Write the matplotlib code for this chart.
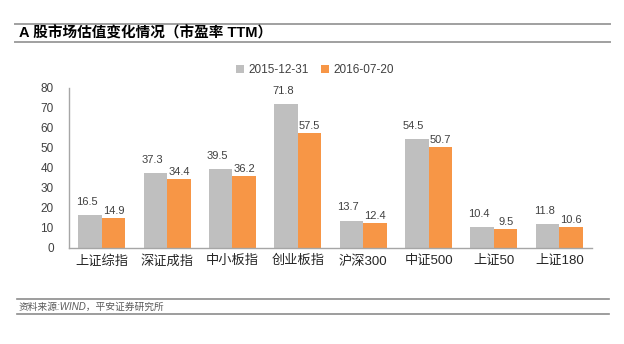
import numpy as np
import matplotlib
matplotlib.use("Agg")
import matplotlib.pyplot as plt
from matplotlib.lines import Line2D

plt.rcParams["font.family"] = ["Liberation Sans", "Noto Sans CJK SC", "DejaVu Sans"]
plt.rcParams["axes.unicode_minus"] = False

categories = ["上证综指", "深证成指", "中小板指", "创业板指", "沪深300", "中证500", "上证50", "上证180"]
pe_2015 = [16.5, 37.3, 39.5, 71.8, 13.7, 54.5, 10.4, 11.8]
pe_2016 = [14.9, 34.4, 36.2, 57.5, 12.4, 50.7, 9.5, 10.6]
series_names = ["2015-12-31", "2016-07-20"]
yticks = [0, 10, 20, 30, 40, 50, 60, 70, 80]

gray = "#BFBFBF"
orange = "#F79646"
text_col = "#404040"

W, H = 624, 344
fig = plt.figure(figsize=(W / 100, H / 100), dpi=100)

ax = fig.add_axes([69 / W, 1 - 248 / H, (592 - 69) / W, (248 - 88) / H])
x = np.arange(len(categories))
bw = 0.36
b1 = ax.bar(x - bw / 2, pe_2015, bw, color=gray, label=series_names[0])
b2 = ax.bar(x + bw / 2, pe_2016, bw, color=orange, label=series_names[1])

for rect, v in zip(b1, pe_2015):
    ax.annotate(f"{v:.1f}", (rect.get_x() + rect.get_width() / 2 - 0.05, v),
                xytext=(0, 6), textcoords="offset points", ha="center", va="bottom",
                fontsize=8, color=text_col)
for rect, v in zip(b2, pe_2016):
    ax.annotate(f"{v:.1f}", (rect.get_x() + rect.get_width() / 2, v),
                xytext=(0, 1.5), textcoords="offset points", ha="center", va="bottom",
                fontsize=8, color=text_col)

ax.set_xlim(-0.5, len(categories) - 0.5)
ax.set_ylim(0, 80)
ax.set_yticks(yticks)
ax.set_xticks(x)
ax.set_xticklabels(categories, fontsize=9.5, color="#262626")
ax.tick_params(axis="y", length=0, labelsize=8.5, labelcolor=text_col, pad=11)
ax.tick_params(axis="x", length=0, pad=5)
for s in ["top", "right"]:
    ax.spines[s].set_visible(False)
for s in ["left", "bottom"]:
    ax.spines[s].set_color("#A6A6A6")
    ax.spines[s].set_linewidth(1.0)

ax.legend(loc="center", bbox_to_anchor=(315 / W, 1 - 70 / H), bbox_transform=fig.transFigure,
          ncol=2, frameon=False, fontsize=8.5, handlelength=0.7, handleheight=0.7,
          handletextpad=0.4, columnspacing=1.0, labelcolor=text_col)

# title band
for yy in (24, 42):
    fig.add_artist(Line2D([15 / W, 610 / W], [1 - yy / H] * 2, color="#A0A0A0", lw=1.4))
fig.text(19 / W, 1 - 33 / H, "A 股市场估值变化情况（市盈率 TTM）", fontsize=10.5,
         fontweight="bold", color="black", va="center", ha="left")

# source band
for yy in (299, 314):
    fig.add_artist(Line2D([17 / W, 609 / W], [1 - yy / H] * 2, color="#8C8C8C", lw=1.2))
fig.text(19 / W, 1 - 307 / H, "资料来源:WIND，平安证券研究所", fontsize=7,
         style="italic", color="#595959", va="center", ha="left")

fig.savefig("out.png", dpi=100)
